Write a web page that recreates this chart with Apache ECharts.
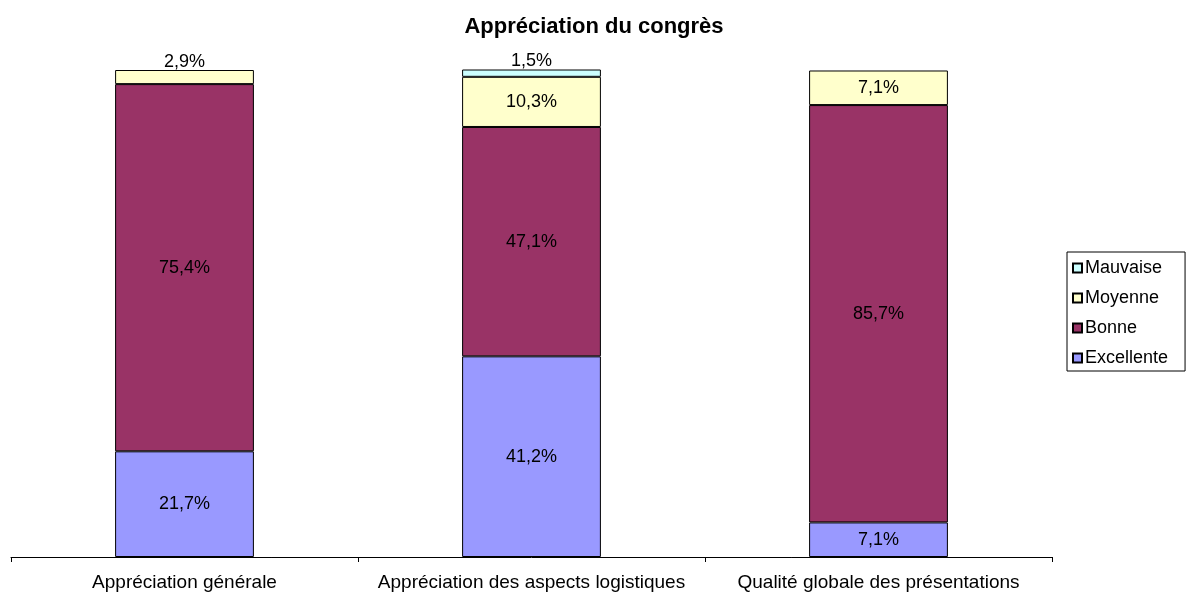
<!DOCTYPE html>
<html>
<head>
<meta charset="utf-8">
<script src="https://cdn.jsdelivr.net/npm/echarts@6/dist/echarts.min.js"></script>
<style>
  html, body { margin: 0; padding: 0; background: #fff; }
  #chart { width: 1188px; height: 596px; }
</style>
</head>
<body>
<div id="chart"></div>
<script>
// data
const categories = ['Appréciation générale', 'Appréciation des aspects logistiques', 'Qualité globale des présentations'];
const excellente = [21.7, 41.2, 7.1];
const bonne = [75.4, 47.1, 85.7];
const moyenne = [2.9, 10.3, 7.1];
const mauvaise = [null, 1.5, null];

const font = 'Liberation Sans, Arial, sans-serif';

// small segments get their label above the bar
const smallLimit = 5;

function pct(p) {
  return p.value == null ? '' : p.value.toFixed(1).replace('.', ',') + '%';
}

function withLabels(values) {
  return values.map(v => {
    if (v == null) return '-';
    if (v < smallLimit) {
      return { value: v, label: { position: 'top', distance: -1 } };
    }
    return v;
  });
}

function makeSeries(name, values, color) {
  return {
    name: name,
    type: 'bar',
    stack: 'total',
    barWidth: '40%',
    clip: false,
    data: withLabels(values),
    itemStyle: { color: color, borderColor: '#000', borderWidth: 1 },
    label: {
      show: true,
      position: 'inside',
      color: '#000',
      fontFamily: font,
      fontSize: 18,
      formatter: pct
    },
    emphasis: { disabled: true }
  };
}

const chart = echarts.init(document.getElementById('chart'));
chart.setOption({
  animation: false,
  title: {
    text: 'Appréciation du congrès',
    left: 'center',
    top: 11,
    textStyle: { fontFamily: font, fontSize: 22, fontWeight: 'bold', color: '#000' }
  },
  legend: {
    orient: 'vertical',
    left: 1067,
    top: 252,
    data: ['Mauvaise', 'Moyenne', 'Bonne', 'Excellente'],
    icon: 'rect',
    itemWidth: 9,
    itemHeight: 9,
    itemGap: 12,
    padding: [7, 17, 4, 5],
    borderColor: '#000',
    borderWidth: 1,
    textStyle: { fontFamily: font, fontSize: 18, lineHeight: 18, color: '#000', padding: [0, 0, 0, -2] }
  },
  grid: { left: 11, right: 136, top: 70, bottom: 39 },
  xAxis: {
    type: 'category',
    data: categories,
    axisLine: { lineStyle: { color: '#000', width: 1 } },
    axisTick: { show: true, interval: 0, length: 5, lineStyle: { color: '#000' } },
    axisLabel: { interval: 0, hideOverlap: false, fontFamily: font, fontSize: 19, color: '#000', margin: 16 }
  },
  yAxis: {
    type: 'value',
    min: 0,
    max: 100,
    show: false,
    splitLine: { show: false }
  },
  series: [
    makeSeries('Excellente', excellente, '#9999FF'),
    makeSeries('Bonne', bonne, '#993366'),
    makeSeries('Moyenne', moyenne, '#FFFFCC'),
    makeSeries('Mauvaise', mauvaise, '#CCFFFF')
  ]
});
</script>
</body>
</html>
